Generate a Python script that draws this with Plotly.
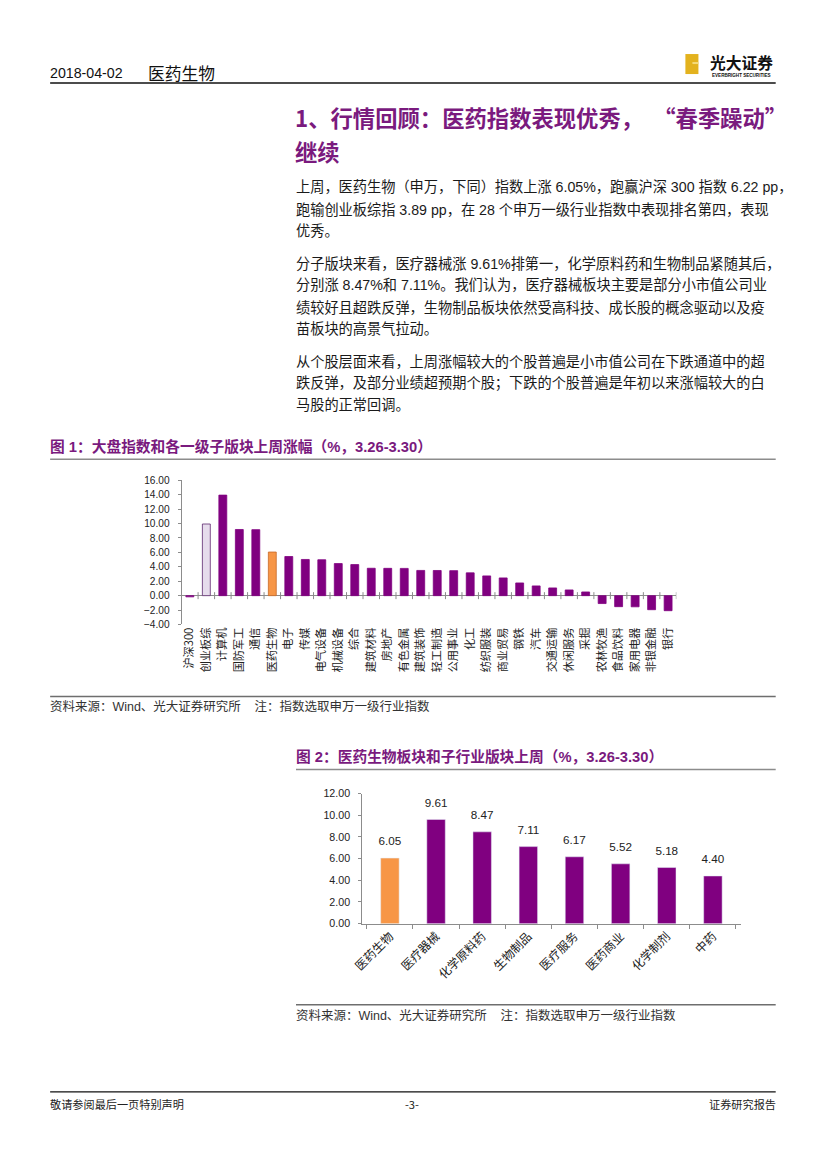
import plotly.graph_objects as go

W, H = 827, 1169

# ---------------- data ----------------
fig1_categories = ["沪深300", "创业板综", "计算机", "国防军工", "通信", "医药生物", "电子", "传媒",
                   "电气设备", "机械设备", "综合", "建筑材料", "房地产", "有色金属", "建筑装饰",
                   "轻工制造", "公用事业", "化工", "纺织服装", "商业贸易", "钢铁", "汽车",
                   "交通运输", "休闲服务", "采掘", "农林牧渔", "食品饮料", "家用电器", "非银金融", "银行"]
fig1_values = [-0.17, 9.94, 13.95, 9.18, 9.16, 6.05, 5.43, 5.02, 4.98, 4.45, 4.31, 3.80, 3.79, 3.78,
               3.50, 3.49, 3.47, 3.16, 2.74, 2.46, 1.76, 1.35, 1.07, 0.79, 0.51, -1.10, -1.53, -1.55,
               -1.95, -2.09]
fig1_yticks = [-4, -2, 0, 2, 4, 6, 8, 10, 12, 14, 16]

fig2_categories = ["医药生物", "医疗器械", "化学原料药", "生物制品", "医疗服务", "医药商业", "化学制剂", "中药"]
fig2_values = [6.05, 9.61, 8.47, 7.11, 6.17, 5.52, 5.18, 4.40]
fig2_yticks = [0, 2, 4, 6, 8, 10, 12]

PURPLE = "#800080"
ORANGE = "#F79646"
LAVENDER = "#E6DCEC"
TITLE_PURPLE = "#7A1A7E"
FONT = "Liberation Sans, Noto Sans CJK SC, sans-serif"
CJK = "Noto Sans CJK SC, Liberation Sans, sans-serif"

# the photographed page lands slightly inset and scaled; these map reference pixels to page pixels
SX, OX = 0.982, 14.0
SY, OY = 0.989, 6.0


def px(x):
    return ((x - OX) / SX) / W


def py(y):
    return 1 - ((y - OY) / SY) / H


def fs(s):
    return round(s / 0.985, 2)


fig = go.Figure()

# ---------------- chart 1 ----------------
c1_colors = []
c1_lines = []
for c in fig1_categories:
    if c == "创业板综":
        c1_colors.append(LAVENDER)
        c1_lines.append("#5E2A6E")
    elif c == "医药生物":
        c1_colors.append(ORANGE)
        c1_lines.append("#C86A2A")
    else:
        c1_colors.append(PURPLE)
        c1_lines.append(PURPLE)

idx1 = list(range(len(fig1_categories)))
fig.add_trace(go.Bar(x=idx1, y=fig1_values, marker=dict(color=c1_colors, line=dict(color=c1_lines, width=0.8)),
                     width=0.48, xaxis="x", yaxis="y", showlegend=False, hoverinfo="x+y"))
fig.add_trace(go.Scatter(x=[i + 0.5 for i in idx1], y=[0] * len(idx1), mode="markers",
                         marker=dict(symbol="line-ns-open", size=5, color="#8C8C8C",
                                     line=dict(color="#8C8C8C", width=1)),
                         xaxis="x", yaxis="y", showlegend=False, hoverinfo="skip"))

# ---------------- chart 2 ----------------
c2_colors = [ORANGE if c == "医药生物" else PURPLE for c in fig2_categories]
fig.add_trace(go.Bar(x=fig2_categories, y=fig2_values, marker=dict(color=c2_colors),
                     width=0.4, xaxis="x2", yaxis="y2", showlegend=False))
fig.add_trace(go.Scatter(x=fig2_categories, y=fig2_values, mode="markers+text",
                         text=[f"{v:.2f}" for v in fig2_values], textposition="top center",
                         marker=dict(size=14, opacity=0), cliponaxis=False,
                         textfont=dict(size=fs(11.5), color="#222222", family=FONT),
                         xaxis="x2", yaxis="y2", showlegend=False, hoverinfo="skip"))

fig.update_layout(
    width=W, height=H,
    margin=dict(l=0, r=0, t=0, b=0),
    paper_bgcolor="white", plot_bgcolor="white",
    font=dict(family=FONT, color="#222222"),
    xaxis=dict(domain=[px(183), px(676)], range=[-0.5, len(idx1) - 0.5],
               tickvals=idx1, ticktext=fig1_categories, tickangle=-90,
               tickfont=dict(size=fs(11), family=CJK, color="#222222"),
               showgrid=False, zeroline=False, showline=False, ticks="", anchor="y", fixedrange=True),
    yaxis=dict(domain=[py(624), py(480)], range=[-4, 16], tickvals=fig1_yticks, tickformat=".2f",
               tickfont=dict(size=fs(10), color="#222222"), showgrid=False,
               zeroline=True, zerolinecolor="#8C8C8C", zerolinewidth=1.2,
               showline=True, linecolor="#8C8C8C", linewidth=1, ticks="outside", ticklen=3,
               tickcolor="#8C8C8C", ticklabelstandoff=6, anchor="x"),
    xaxis2=dict(domain=[px(363), px(740)], type="category",
                tickangle=-45, tickfont=dict(size=fs(11.8), family=CJK, color="#222222"),
                showgrid=False, showline=True, linecolor="#8C8C8C", linewidth=1,
                ticks="outside", tickson="boundaries", ticklen=4, tickcolor="#8C8C8C", anchor="y2"),
    yaxis2=dict(domain=[py(923), py(793)], range=[0, 12], tickvals=fig2_yticks, tickformat=".2f",
                tickfont=dict(size=fs(10.5), color="#222222"), showgrid=False, zeroline=False,
                showline=True, linecolor="#8C8C8C", linewidth=1, ticks="outside", ticklen=3,
                tickcolor="#8C8C8C", ticklabelstandoff=6, anchor="x2"),
    bargap=0.5,
)

shapes = []
annotations = []


def hline(y, x0, x1, color, width):
    shapes.append(dict(type="line", xref="paper", yref="paper", x0=px(x0), x1=px(x1), y0=py(y), y1=py(y),
                       line=dict(color=color, width=width)))


def text(x, y, s, size, color="#222222", bold=False, anchor="left", family=CJK):
    if bold:
        s = f"<b>{s}</b>"
    annotations.append(dict(xref="paper", yref="paper", x=px(x), y=py(y), text=s, showarrow=False,
                            xanchor=anchor, yanchor="middle", borderpad=0, borderwidth=0,
                            font=dict(size=fs(size), color=color, family=family)))


# header
text(52, 73, "2018-04-02", 14, "#111111", family="Liberation Sans")
text(150, 73, "医药生物", 16.5, "#111111")
hline(83, 52, 775, "#111111", 1.5)
# logo
shapes.append(dict(type="rect", xref="paper", yref="paper", x0=px(685), x1=px(698), y0=py(74), y1=py(54),
                   fillcolor="#E3B21E", line=dict(width=0)))
shapes.append(dict(type="rect", xref="paper", yref="paper", x0=px(692), x1=px(698), y0=py(64), y1=py(62),
                   fillcolor="#F4DA7A", line=dict(width=0)))
text(741, 62, "光大证券", 15.5, "#111111", bold=True, anchor="center", family="Noto Sans CJK SC")
text(741, 75, "EVERBRIGHT SECURITIES", 4.5, "#111111", bold=True, anchor="center", family="Liberation Sans")

# section title
text(296, 117, "1、行情回顾：医药指数表现优秀，&nbsp;&nbsp;“春季躁动”", 22, TITLE_PURPLE, bold=True)
text(296, 151, "继续", 22, TITLE_PURPLE, bold=True)

body_lines = [
    (187, "上周，医药生物（申万，下同）指数上涨 6.05%，跑赢沪深 300 指数 6.22 pp，"),
    (209, "跑输创业板综指 3.89 pp，在 28 个申万一级行业指数中表现排名第四，表现"),
    (231, "优秀。"),
    (263, "分子版块来看，医疗器械涨 9.61%排第一，化学原料药和生物制品紧随其后，"),
    (285, "分别涨 8.47%和 7.11%。我们认为，医疗器械板块主要是部分小市值公司业"),
    (307, "绩较好且超跌反弹，生物制品板块依然受高科技、成长股的概念驱动以及疫"),
    (329, "苗板块的高景气拉动。"),
    (361, "从个股层面来看，上周涨幅较大的个股普遍是小市值公司在下跌通道中的超"),
    (383, "跌反弹，及部分业绩超预期个股；下跌的个股普遍是年初以来涨幅较大的白"),
    (405, "马股的正常回调。"),
]
for y, s in body_lines:
    text(297, y, s, 14, "#1A1A1A", family=FONT)

# figure 1 title and frame lines
text(52, 446, "图 1：大盘指数和各一级子版块上周涨幅（%，3.26-3.30）", 14.5, TITLE_PURPLE, bold=True, family=FONT)
hline(459, 52, 775, "#8C8C8C", 1.5)
hline(696, 52, 775, "#6E6E6E", 1.5)
text(52, 706, "资料来源：Wind、光大证券研究所&nbsp;&nbsp;&nbsp;&nbsp;注：指数选取申万一级行业指数", 12.3, "#333333", family=FONT)

# figure 2 title and frame lines
text(297, 756, "图 2：医药生物板块和子行业版块上周（%，3.26-3.30）", 14.5, TITLE_PURPLE, bold=True, family=FONT)
hline(769, 297, 775, "#8C8C8C", 1.5)
hline(1004, 297, 775, "#6E6E6E", 1.5)
text(297, 1015, "资料来源：Wind、光大证券研究所&nbsp;&nbsp;&nbsp;&nbsp;注：指数选取申万一级行业指数", 12.3, "#333333", family=FONT)

# footer
hline(1091, 52, 775, "#111111", 1.2)
text(52, 1103, "敬请参阅最后一页特别声明", 11, "#222222")
text(413, 1103, "-3-", 11, "#222222", anchor="center")
text(775, 1103, "证券研究报告", 11, "#222222", anchor="right")

fig.update_layout(shapes=shapes, annotations=annotations)

fig.write_html(
    "out.html",
    config={"displayModeBar": False},
    post_script=(
        "document.documentElement.style.margin='0';document.body.style.margin='0';"
        "document.body.style.padding='0';document.body.style.overflow='hidden';"
        "var d=document.getElementById('{plot_id}');d.style.position='fixed';d.style.left='0px';d.style.top='0px';"
    ),
)
